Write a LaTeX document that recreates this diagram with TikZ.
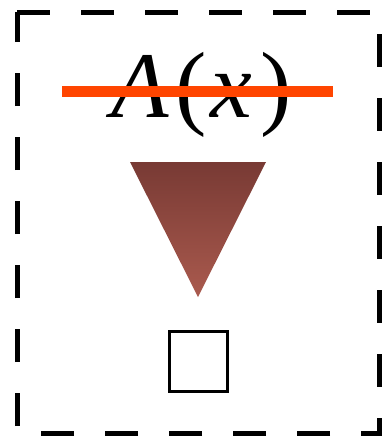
\documentclass[tikz,border=0pt]{standalone}
\usepackage{fontspec}
\setmainfont{Liberation Serif}
\definecolor{strike}{RGB}{255,69,0}
\definecolor{tritop}{RGB}{120,58,52}
\definecolor{tribot}{RGB}{170,90,78}
\tikzset{
  frame/.style={line width=5pt, dash pattern=on 33pt off 31pt, line join=miter},
  label/.style={inner sep=0pt, anchor=base west, font=\fontsize{94}{94}\selectfont},
  strikeline/.style={line width=11pt, strike},
  box/.style={draw, line width=3pt, minimum width=58pt, minimum height=60pt, inner sep=0pt}
}
\begin{document}
\begin{tikzpicture}[x=1pt, y=-1pt]
\useasboundingbox (0,0) rectangle (383,440);
\draw[frame] (17,12) -- (379,12) -- (379,433) -- (17,433) -- cycle;
\node[label] (fn) at (111,117) {\textit{A}\kern7pt(\kern3pt\textit{x}\kern9pt)};
\coordinate (sl) at (62,91.5);
\coordinate (sr) at (333,91.5);
\draw[strikeline] (sl) -- (sr);
\shade[top color=tritop, bottom color=tribot] (130,162) -- (266,162) -- (198,297) -- cycle;
\node[box] (sq) at (198.5,361) {};
\end{tikzpicture}
\end{document}
